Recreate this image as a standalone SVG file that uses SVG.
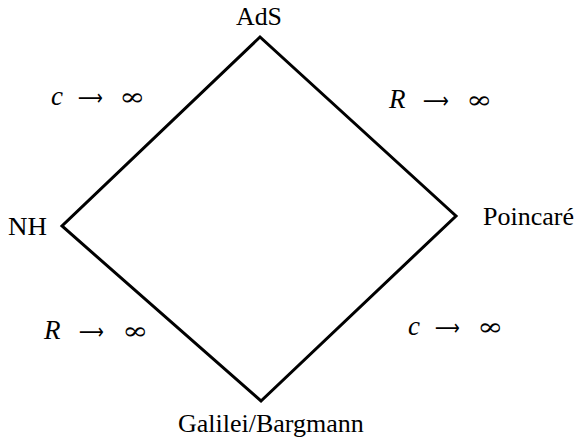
<svg xmlns="http://www.w3.org/2000/svg" width="579" height="439" viewBox="0 0 579 439">
<style>
.lbl{font-family:"Liberation Serif","Times New Roman",serif;font-size:26px;fill:#000}
.it{font-family:"Liberation Serif","Times New Roman",serif;font-style:italic;font-size:27px;fill:#000}
.ar{font-family:"DejaVu Sans",sans-serif;font-size:22px;fill:#000}
.inf{font-family:"DejaVu Serif",serif;font-size:24px;fill:#000}
.edge{fill:none;stroke:#000;stroke-width:3;stroke-linejoin:miter}
</style>
<rect width="579" height="439" fill="#fff"/>
<g id="connectors">
<path class="edge" d="M260,37 L62,226 L261,401 L456,216 Z"/>
</g>
<g id="AdS"><text class="lbl" x="236" y="25" textLength="46" lengthAdjust="spacingAndGlyphs">AdS</text></g>
<g id="NH"><text class="lbl" x="8" y="235" textLength="39" lengthAdjust="spacingAndGlyphs">NH</text></g>
<g id="Poincare"><text class="lbl" x="483" y="225">Poincaré</text></g>
<g id="Galilei"><text class="lbl" x="178" y="432">Galilei/Bargmann</text></g>
<g id="labels">
<text class="it" x="51" y="105">c</text>
<text class="ar" x="78" y="105" textLength="25" lengthAdjust="spacingAndGlyphs">⟶</text>
<text class="inf" x="119" y="105" textLength="26" lengthAdjust="spacingAndGlyphs">∞</text>

<text class="it" x="389" y="108">R</text>
<text class="ar" x="423" y="108" textLength="26" lengthAdjust="spacingAndGlyphs">⟶</text>
<text class="inf" x="466" y="108" textLength="26" lengthAdjust="spacingAndGlyphs">∞</text>

<text class="it" x="44" y="339">R</text>
<text class="ar" x="79" y="339" textLength="25" lengthAdjust="spacingAndGlyphs">⟶</text>
<text class="inf" x="122" y="339" textLength="26" lengthAdjust="spacingAndGlyphs">∞</text>

<text class="it" x="408" y="335">c</text>
<text class="ar" x="435" y="335" textLength="25" lengthAdjust="spacingAndGlyphs">⟶</text>
<text class="inf" x="477" y="335" textLength="26" lengthAdjust="spacingAndGlyphs">∞</text>
</g>
</svg>
